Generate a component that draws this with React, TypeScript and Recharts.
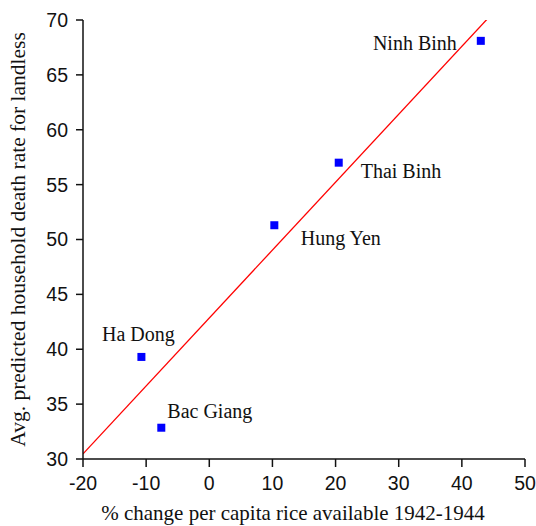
import React from 'react';
import { ScatterChart, Scatter, XAxis, YAxis, ReferenceLine, Label } from 'recharts';

// provinces of northern Vietnam, famine of 1944-45
const provinces = ['Ninh Binh', 'Thai Binh', 'Hung Yen', 'Ha Dong', 'Bac Giang'];
const riceChange = [43.0, 20.5, 10.3, -10.75, -7.6];
const deathRate = [68.1, 57.0, 51.3, 39.3, 32.85];

const xTicks = [-20, -10, 0, 10, 20, 30, 40, 50];
const yTicks = [30, 35, 40, 45, 50, 55, 60, 65, 70];

// where each name sits relative to its marker
const labelPos: Record<string, { dx: number; dy: number; anchor: 'start' | 'middle' | 'end' }> = {
  'Ninh Binh': { dx: -24, dy: 9.5, anchor: 'end' },
  'Thai Binh': { dx: 22, dy: 15.5, anchor: 'start' },
  'Hung Yen': { dx: 26.5, dy: 19.5, anchor: 'start' },
  'Ha Dong': { dx: -3, dy: -15.5, anchor: 'middle' },
  'Bac Giang': { dx: 6, dy: -9.5, anchor: 'start' },
};

const data = provinces.map((name, i) => ({ name, x: riceChange[i], y: deathRate[i] }));

// least squares fit
const n = data.length;
const mx = riceChange.reduce((a, b) => a + b, 0) / n;
const my = deathRate.reduce((a, b) => a + b, 0) / n;
let sxy = 0;
let sxx = 0;
data.forEach((d) => {
  sxy += (d.x - mx) * (d.y - my);
  sxx += (d.x - mx) * (d.x - mx);
});
const slope = sxy / sxx;
const intercept = my - slope * mx;
const fit = (x: number) => intercept + slope * x;

const SERIF = '"Liberation Serif", "Times New Roman", serif';
const SANS = '"Liberation Sans", Arial, sans-serif';

const Point = (props: any) => {
  const { cx, cy, payload } = props;
  const p = labelPos[payload.name];
  return (
    <g>
      <rect x={cx - 4} y={cy - 4} width={8} height={8} fill="#0000ff" />
      <text x={cx + p.dx} y={cy + p.dy} textAnchor={p.anchor} fontFamily={SERIF} fontSize={20} fill="#111">
        {payload.name}
      </text>
    </g>
  );
};

const tickStyle = { fontSize: 19.5, fontFamily: SANS, fill: '#111' };
const axisLine = { stroke: '#111', strokeWidth: 1.5 };

export default function App() {
  return (
    <div style={{ position: 'absolute', left: 0, top: 0, background: '#fff' }}>
      <ScatterChart width={536} height={526} margin={{ top: 20, right: 11, bottom: 0, left: 0 }}>
        <XAxis
          type="number"
          dataKey="x"
          domain={[-20, 50]}
          ticks={xTicks}
          interval={0}
          tickSize={8}
          tickMargin={9}
          height={67}
          tick={tickStyle}
          axisLine={axisLine}
          tickLine={axisLine}
        >
          <Label
            content={(props: any) => {
              const vb = props.viewBox;
              return (
                <text x={vb.x + vb.width / 2 - 11} y={520} textAnchor="middle" fontFamily={SERIF} fontSize={21} fill="#111">
                  % change per capita rice available 1942-1944
                </text>
              );
            }}
          />
        </XAxis>
        <XAxis xAxisId="top" orientation="top" type="number" domain={[-20, 50]} height={0} tick={false} tickLine={false} axisLine={axisLine} />
        <YAxis
          type="number"
          dataKey="y"
          domain={[30, 70]}
          ticks={yTicks}
          interval={0}
          tickSize={7}
          tickMargin={8}
          width={83}
          tick={tickStyle}
          axisLine={axisLine}
          tickLine={axisLine}
        >
          <Label
            content={(props: any) => {
              const vb = props.viewBox;
              const cy = vb.y + vb.height / 2;
              return (
                <text
                  x={25}
                  y={cy}
                  transform={`rotate(-90, 25, ${cy})`}
                  textAnchor="middle"
                  fontFamily={SERIF}
                  fontSize={21.5}
                  fill="#111"
                >
                  Avg. predicted household death rate for landless
                </text>
              );
            }}
          />
        </YAxis>
        <YAxis yAxisId="right" orientation="right" type="number" domain={[30, 70]} width={0} tick={false} tickLine={false} axisLine={axisLine} />
        <ReferenceLine
          segment={[
            { x: -20, y: fit(-20) },
            { x: 50, y: fit(50) },
          ]}
          stroke="#ff0000"
          strokeWidth={1.3}
          ifOverflow="hidden"
        />
        <Scatter data={data} shape={Point} isAnimationActive={false} />
      </ScatterChart>
    </div>
  );
}
